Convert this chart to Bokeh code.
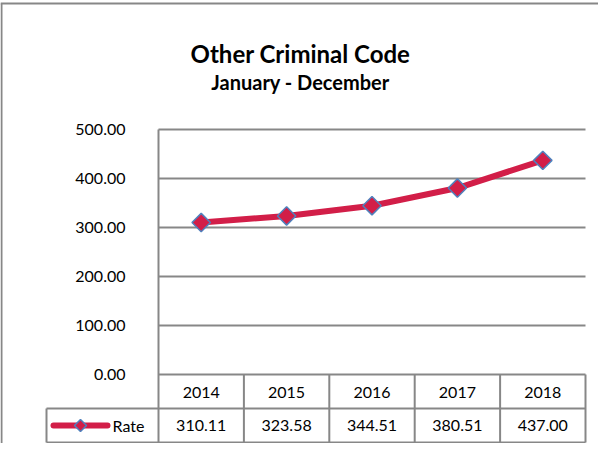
from bokeh.plotting import figure
from bokeh.models import LinearAxis, FixedTicker, Range1d
from bokeh.core.properties import value
from bokeh.embed import file_html
from bokeh.resources import INLINE

# ---- data ----
YEARS = ["2014", "2015", "2016", "2017", "2018"]
RATE = [310.11, 323.58, 344.51, 380.51, 437.00]
RATE_LABELS = ["310.11", "323.58", "344.51", "380.51", "437.00"]
Y_TICKS = [0, 100, 200, 300, 400, 500]
Y_TICK_LABELS = ["0.00", "100.00", "200.00", "300.00", "400.00", "500.00"]
TITLE = "Other Criminal Code"
SUBTITLE = "January - December"
SERIES = "Rate"

# ---- layout (canvas pixels) ----
W, H = 598, 443
CW = 85.4      # px per category cell
S = 0.49       # px per value unit
PX0 = 158      # canvas x of plot-area left edge
PY0 = 374      # canvas y of the zero line
ROW_PX = 34    # table row height

def dx(px):
    return (px - PX0) / CW - 0.5

def dy(py):
    return (PY0 - py) / S

ROW = ROW_PX / S
FONT = value("Lato")
GRAY = "#878787"
RED = "#D21E48"
BLUE = "#4F81BD"

idx = list(range(len(YEARS)))
n = len(YEARS)

p = figure(width=W, height=H, x_range=Range1d(dx(0), dx(W)), y_range=Range1d(dy(H), dy(0)),
           output_backend="svg", toolbar_location=None, min_border=0,
           x_axis_type=None, y_axis_type=None, outline_line_color=None)
p.background_fill_color = "white"
p.border_fill_color = "white"

# outer chart border (left, top)
p.segment(x0=[dx(1)], y0=[dy(3)], x1=[dx(1)], y1=[dy(H)], line_color=GRAY, line_width=2)
p.segment(x0=[dx(0)], y0=[dy(3)], x1=[dx(W)], y1=[dy(3)], line_color=GRAY, line_width=2)

# titles
p.text(x=[dx(300)], y=[dy(53)], text=[TITLE], text_align="center", text_baseline="middle",
       text_font=FONT, text_font_style="bold", text_font_size="24px", text_color="black")
p.text(x=[dx(300)], y=[dy(81)], text=[SUBTITLE], text_align="center", text_baseline="middle",
       text_font=FONT, text_font_style="bold", text_font_size="20px", text_color="black")

# horizontal gridlines
p.segment(x0=[-0.5] * (len(Y_TICKS) - 1), x1=[n - 0.5] * (len(Y_TICKS) - 1),
          y0=Y_TICKS[1:], y1=Y_TICKS[1:], line_color=GRAY, line_width=2)

# data table grid
p.segment(x0=[dx(46)] * 2, x1=[n - 0.5] * 2, y0=[-ROW, -2 * ROW], y1=[-ROW, -2 * ROW],
          line_color=GRAY, line_width=2)
p.segment(x0=[i + 0.5 for i in idx], x1=[i + 0.5 for i in idx], y0=[0] * n, y1=[-2 * ROW] * n,
          line_color=GRAY, line_width=2)
p.segment(x0=[dx(46)], x1=[dx(46)], y0=[-ROW], y1=[-2 * ROW], line_color=GRAY, line_width=2)

# table values
p.text(x=idx, y=[-1.5 * ROW] * n, text=RATE_LABELS, text_align="center", text_baseline="middle",
       text_font=FONT, text_font_size="16px", text_color="black")

# series
p.line(x=idx, y=RATE, line_color=RED, line_width=6, line_cap="round", line_join="round")
p.scatter(x=idx, y=RATE, marker="square", angle=0.785398, size=13,
          fill_color=RED, line_color=BLUE, line_width=1.5)

# legend key inside the table row
p.segment(x0=[dx(53)], x1=[dx(107)], y0=[-1.5 * ROW], y1=[-1.5 * ROW],
          line_color=RED, line_width=6, line_cap="round")
p.scatter(x=[dx(80)], y=[-1.5 * ROW], marker="square", angle=0.785398, size=8.5,
          fill_color=RED, line_color=BLUE, line_width=1.5)
p.text(x=[dx(112)], y=[-1.5 * ROW], text=[SERIES], text_align="left", text_baseline="middle",
       text_font=FONT, text_font_size="16px", text_color="black")

# axes
yax = LinearAxis(fixed_location=-0.5, ticker=FixedTicker(ticks=Y_TICKS),
                 major_label_overrides={t: l for t, l in zip(Y_TICKS, Y_TICK_LABELS)},
                 bounds=(-2 * ROW, Y_TICKS[-1]))
yax.axis_line_color = GRAY
yax.axis_line_width = 2
yax.major_tick_out = 0
yax.major_tick_in = 0
yax.minor_tick_out = 0
yax.minor_tick_in = 0
yax.major_label_standoff = 33
yax.major_label_text_font = "Lato"
yax.major_label_text_font_size = "16px"
yax.major_label_text_color = "black"
p.add_layout(yax, "left")

xax = LinearAxis(fixed_location=0, ticker=FixedTicker(ticks=idx),
                 major_label_overrides={i: y for i, y in zip(idx, YEARS)},
                 bounds=(-0.5, n - 0.5))
xax.axis_line_color = GRAY
xax.axis_line_width = 2
xax.major_tick_out = 0
xax.major_tick_in = 0
xax.minor_tick_out = 0
xax.minor_tick_in = 0
xax.major_label_standoff = 12
xax.major_label_text_font = "Lato"
xax.major_label_text_font_size = "16px"
xax.major_label_text_color = "black"
p.add_layout(xax, "below")

open("out.html", "w").write(file_html(p, INLINE))
